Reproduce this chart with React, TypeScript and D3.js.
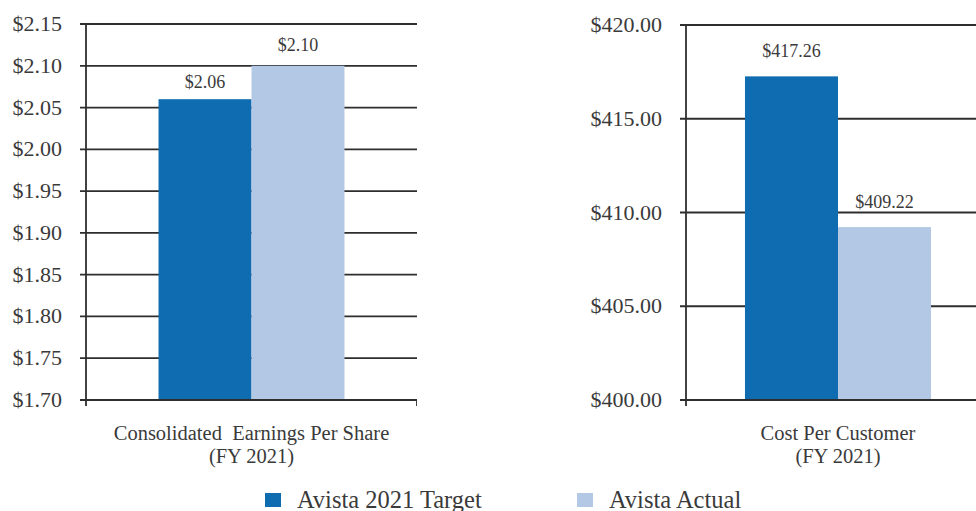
import React from 'react';
import * as d3 from 'd3';

// series
const seriesNames = ['Avista 2021 Target', 'Avista Actual'];
const seriesColors = ['#0f6cb0', '#b3c8e4'];

// left panel: EPS
const epsCategory = ['Consolidated  Earnings Per Share', '(FY 2021)'];
const epsValues = [2.06, 2.1];
const epsTicks = [1.7, 1.75, 1.8, 1.85, 1.9, 1.95, 2.0, 2.05, 2.1, 2.15];

// right panel: cost per customer
const costCategory = ['Cost Per Customer', '(FY 2021)'];
const costValues = [417.26, 409.22];
const costTicks = [400, 405, 410, 415, 420];

const FONT = '"Liberation Serif", "Times New Roman", serif';
const LINE = '#2e2e2e';
const TEXT = '#3a3a3a';

type PanelProps = {
  values: number[];
  ticks: number[];
  category: string[];
  left: number;
  right: number;
  top: number;
  bottom: number;
  outer: number;
  endTick: boolean;
  fmt: (v: number) => string;
};

const Panel = (props: PanelProps) => {
  const { values, ticks, category, left, right, top, bottom, fmt } = props;
  const y = d3.scaleLinear().domain(d3.extent(ticks) as [number, number]).range([bottom, top]);
  const x = d3.scaleBand().domain(['c']).range([left, right]).paddingInner(0).paddingOuter(props.outer);
  const xs = d3.scaleBand().domain(seriesNames).range([x('c')!, x('c')! + x.bandwidth()]);
  const cx = x('c')! + x.bandwidth() / 2;

  // label sits mid-way between bar top and the gridline above if there's room
  const labelY = (v: number) => {
    const above = ticks.find((t) => t > v);
    const barTop = y(v);
    if (above !== undefined && barTop - y(above) >= 30) {
      return (barTop + y(above)) / 2 + 6;
    }
    return barTop - 19;
  };

  return (
    <g>
      {ticks.map((t) => (
        <g key={t}>
          <line x1={left - 6} x2={right + 40} y1={y(t)} y2={y(t)} stroke={LINE} strokeWidth={1.8} />
          <text x={left - 24} y={y(t) + 7} textAnchor="end" fontSize={22} fill={TEXT} fontFamily={FONT}>
            {fmt(t)}
          </text>
        </g>
      ))}
      {values.map((v, i) => (
        <g key={seriesNames[i]}>
          <rect
            x={xs(seriesNames[i])}
            y={y(v)}
            width={xs.bandwidth()}
            height={bottom - y(v)}
            fill={seriesColors[i]}
          />
          <text
            x={xs(seriesNames[i])! + xs.bandwidth() / 2}
            y={labelY(v)}
            textAnchor="middle"
            fontSize={18}
            fill={TEXT}
            fontFamily={FONT}>
            {fmt(v)}
          </text>
        </g>
      ))}
      <line x1={left - 6} x2={right + 40} y1={bottom} y2={bottom} stroke={LINE} strokeWidth={1.8} />
      <line x1={left} x2={left} y1={top} y2={bottom + 6} stroke={LINE} strokeWidth={1.8} />
      {props.endTick && (
        <line x1={right} x2={right} y1={bottom} y2={bottom + 6} stroke={LINE} strokeWidth={1.8} />
      )}
      {category.map((c, i) => (
        <text key={c} x={cx} y={440 + i * 23} textAnchor="middle" fontSize={20.5} fill={TEXT}
          fontFamily={FONT} style={{ whiteSpace: 'pre' }}>
          {c}
        </text>
      ))}
    </g>
  );
};

export default function App() {
  const fmt2 = (v: number) => `$${v.toFixed(2)}`;
  const legendX = [265, 577];
  return (
    <svg width={976} height={511} style={{ position: 'absolute', left: 0, top: 0, background: '#fff' }}>
      <defs>
        <clipPath id="left-clip">
          <rect x={0} y={0} width={417} height={511} />
        </clipPath>
      </defs>
      <g clipPath="url(#left-clip)">
        <Panel values={epsValues} ticks={epsTicks} category={epsCategory}
          left={86} right={417} top={24} bottom={400} outer={0.39} endTick fmt={fmt2} />
      </g>
      <Panel values={costValues} ticks={costTicks} category={costCategory}
        left={686} right={990} top={25} bottom={400} outer={0.317} endTick={false} fmt={fmt2} />
      {seriesNames.map((s, i) => (
        <g key={s}>
          <rect x={legendX[i]} y={493} width={16} height={14} fill={seriesColors[i]} />
          <text x={legendX[i] + 32} y={508} fontSize={24.5} fill={TEXT} fontFamily={FONT}>{s}</text>
        </g>
      ))}
    </svg>
  );
}
